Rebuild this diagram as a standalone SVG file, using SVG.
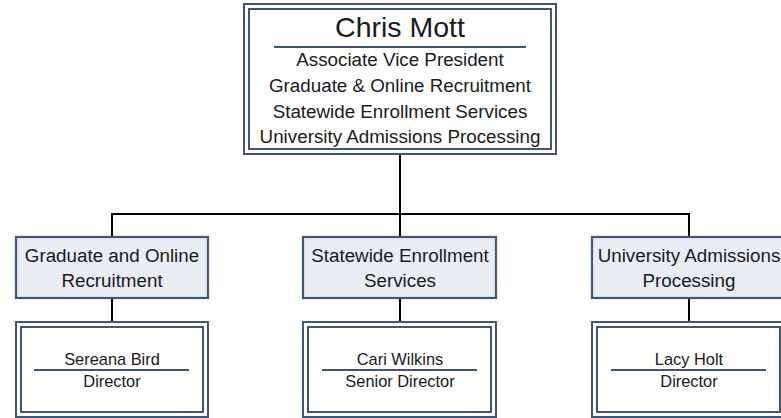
<svg xmlns="http://www.w3.org/2000/svg" width="781" height="418" viewBox="0 0 781 418">
<style>
.frame{fill:#fff;stroke:#3f5679;stroke-width:2}
.unit{fill:#e9edf4;stroke:#3f5679;stroke-width:2.2}
.rule{stroke:#3f5679;stroke-width:2}
.conn{stroke:#000;stroke-width:2;fill:none}
text{font-family:"Liberation Sans",Arial,sans-serif;fill:#1a1a1a;text-anchor:middle}
.t1{font-size:28.5px}
.t2{font-size:18.8px}
.t3{font-size:16.4px}
</style>
<rect width="781" height="418" fill="#fff"/>
<g id="connectors">
<path class="conn" d="M400,155 V214 M112,214 H689 M112,213 V237 M400,214 V237 M689,213 V237 M112,298 V322 M400,298 V322 M689,298 V322"/>
</g>
<g id="chris-mott">
<rect class="frame" x="244" y="4" width="312" height="150"/>
<rect class="frame" x="249" y="9" width="302" height="140"/>
<text class="t1" x="400" y="37">Chris Mott</text>
<line class="rule" x1="274" y1="47" x2="526" y2="47"/>
<text class="t2" x="400" y="66">Associate Vice President</text>
<text class="t2" x="400" y="92">Graduate &amp; Online Recruitment</text>
<text class="t2" x="400" y="118">Statewide Enrollment Services</text>
<text class="t2" x="400" y="143">University Admissions Processing</text>
</g>
<g id="unit-graduate">
<rect class="unit" x="16" y="237" width="192" height="61"/>
<text class="t2" x="112" y="262">Graduate and Online</text>
<text class="t2" x="112" y="287">Recruitment</text>
</g>
<g id="unit-statewide">
<rect class="unit" x="303" y="237" width="193" height="61"/>
<text class="t2" x="400" y="262">Statewide Enrollment</text>
<text class="t2" x="400" y="287">Services</text>
</g>
<g id="unit-university">
<rect class="unit" x="592" y="237" width="193" height="61"/>
<text class="t2" x="689" y="262">University Admissions</text>
<text class="t2" x="689" y="287">Processing</text>
</g>
<g id="sereana-bird">
<rect class="frame" x="16" y="322" width="192" height="95"/>
<rect class="frame" x="21" y="327" width="182" height="85"/>
<text class="t3" x="112" y="365">Sereana Bird</text>
<line class="rule" x1="34" y1="370" x2="189" y2="370"/>
<text class="t3" x="112" y="387">Director</text>
</g>
<g id="cari-wilkins">
<rect class="frame" x="303" y="322" width="193" height="95"/>
<rect class="frame" x="308" y="327" width="183" height="85"/>
<text class="t3" x="400" y="365">Cari Wilkins</text>
<line class="rule" x1="322" y1="370" x2="477" y2="370"/>
<text class="t3" x="400" y="387">Senior Director</text>
</g>
<g id="lacy-holt">
<rect class="frame" x="592" y="322" width="193" height="95"/>
<rect class="frame" x="597" y="327" width="183" height="85"/>
<text class="t3" x="689" y="365">Lacy Holt</text>
<line class="rule" x1="611" y1="370" x2="766" y2="370"/>
<text class="t3" x="689" y="387">Director</text>
</g>
</svg>
